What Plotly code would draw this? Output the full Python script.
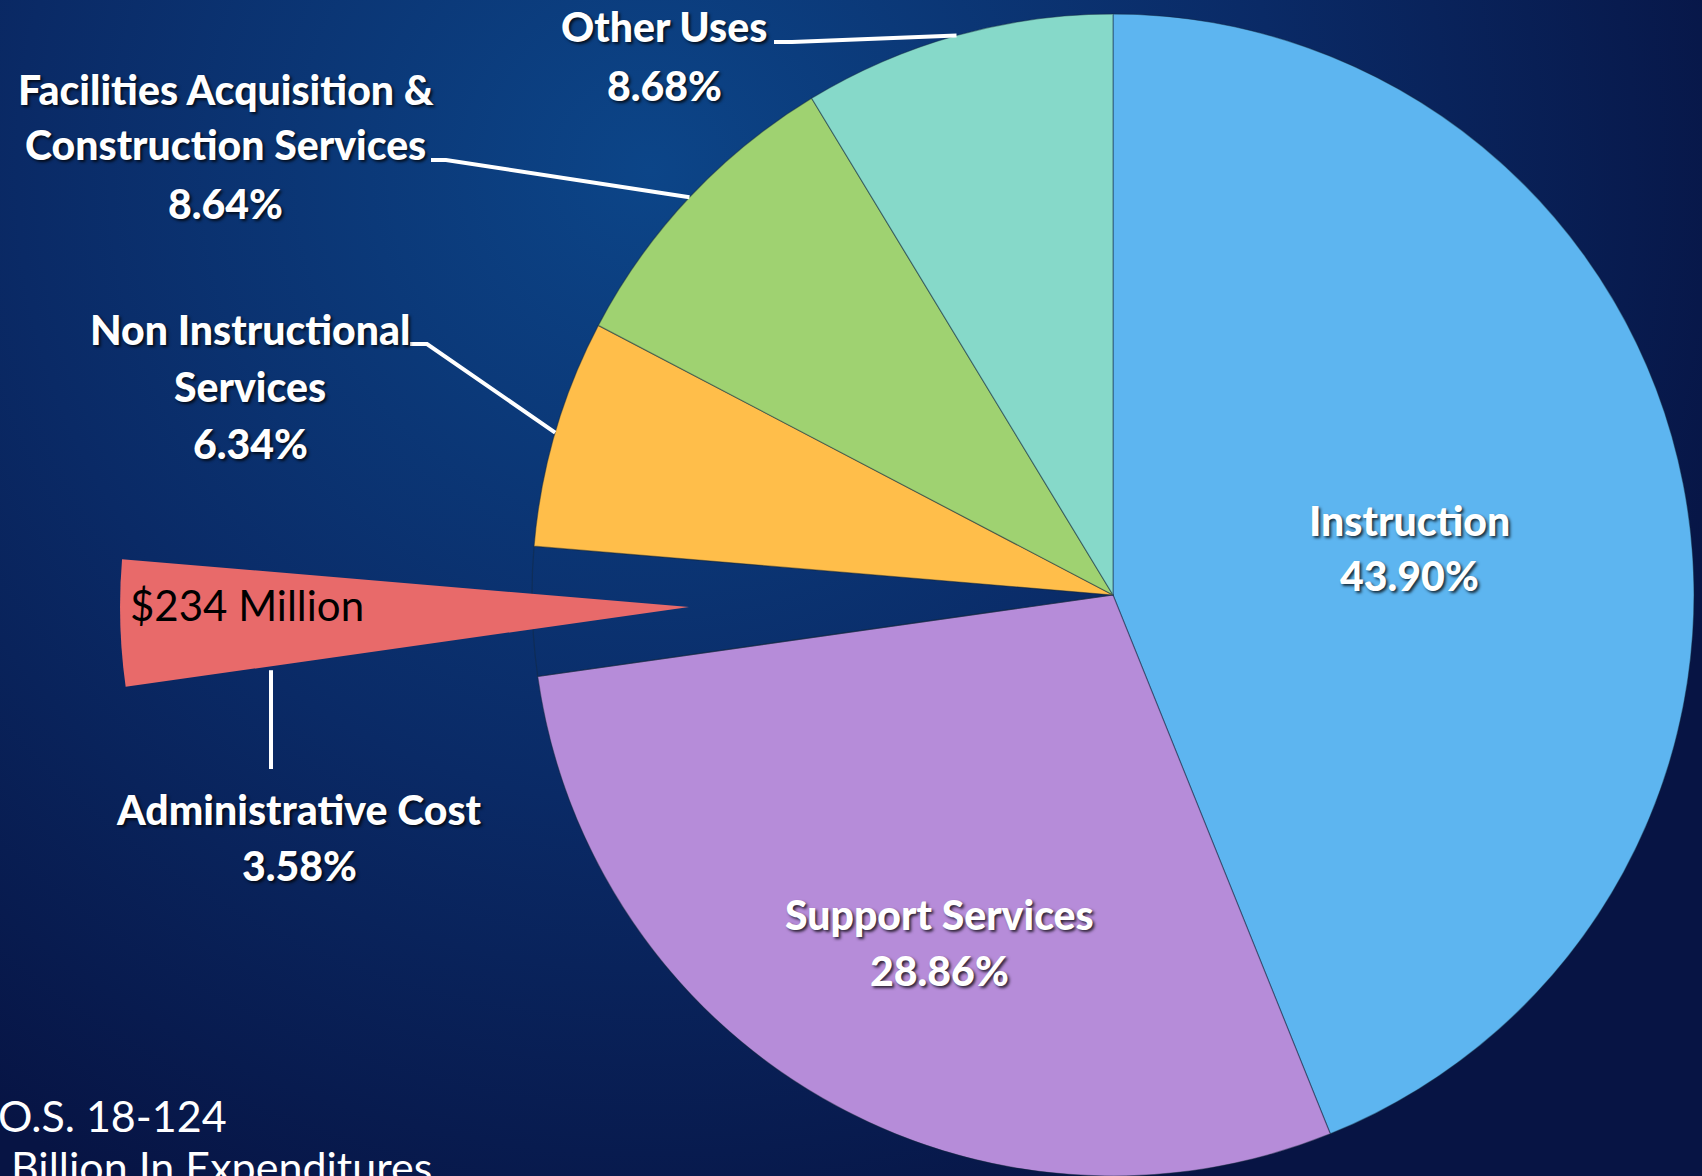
import math
import plotly.graph_objects as go

# data
labels = ["Instruction", "Support Services", "Administrative Cost",
          "Non Instructional Services", "Facilities Acquisition & Construction Services",
          "Other Uses"]
shares = [43.90, 28.86, 3.58, 6.34, 8.64, 8.68]
admin_amount = "$234 Million"
footnote_lines = ["70 O.S. 18-124", "$6.5 Billion In Expenditures"]

# how long names are wrapped on the slide
wrapped = {
    "Non Instructional Services": ["Non Instructional", "Services"],
    "Facilities Acquisition & Construction Services": ["Facilities Acquisition &", "Construction Services"],
}

W, H = 1702, 1176
colors = ["#5db5f0", "#b68cd9", "#e86a6a", "#ffbe4a", "#9fd271", "#86d9c9"]

# pie geometry in pixels
cx, cy, R = 1113, 595, 581
admin_idx = labels.index("Administrative Cost")
admin_pull = 0.73

total = sum(shares)
cum = [sum(shares[:i]) for i in range(len(shares) + 1)]


def ang(frac):
    # clockwise from 12 o'clock, radians
    return 2 * math.pi * frac / total


def on_circle(a, r, x0, y0):
    return x0 + r * math.sin(a), y0 - r * math.cos(a)


def px(x):
    return x / W


def py(y):
    return 1 - y / H


# admin slice pulled out: its own pie whose centre is shifted along the mid angle
mid_admin = ang((cum[admin_idx] + cum[admin_idx + 1]) / 2)
vx, vy = on_circle(mid_admin, admin_pull * R, cx, cy)
Ra = min(vy, H - vy, R)

fig = go.Figure()

# background glow
gx, gy, gr = 650, 170, 1150
fig.add_trace(go.Scatter(
    x=[gx - gr, gx + gr, gx + gr, gx - gr, gx - gr],
    y=[gy - gr, gy - gr, gy + gr, gy + gr, gy - gr],
    mode="lines", line=dict(width=0), fill="toself",
    fillgradient=dict(type="radial",
                      colorscale=[[0, "#0c4588"], [0.55, "#0a2a66"], [1, "#071444"]]),
    hoverinfo="skip", showlegend=False,
))

main_colors = [c if i != admin_idx else "rgba(0,0,0,0)" for i, c in enumerate(colors)]
fig.add_trace(go.Pie(
    labels=labels, values=shares, sort=False, direction="clockwise", rotation=0,
    marker=dict(colors=main_colors, line=dict(color="rgba(20,40,60,0.45)", width=1.2)),
    textinfo="none", hoverinfo="skip", showlegend=False,
    domain=dict(x=[px(cx - R), px(cx + R)], y=[py(cy + R), py(cy - R)]),
))

admin_colors = [c if i == admin_idx else "rgba(0,0,0,0)" for i, c in enumerate(colors)]
fig.add_trace(go.Pie(
    labels=labels, values=shares, sort=False, direction="clockwise", rotation=0,
    marker=dict(colors=admin_colors, line=dict(width=0)),
    textinfo="none", hoverinfo="skip", showlegend=False,
    domain=dict(x=[px(vx - Ra), px(vx + Ra)], y=[py(vy + Ra), py(vy - Ra)]),
))

# label placement (pixels): centre x and y of each line
label_pos = {
    "Instruction": (1409, [520, 575]),
    "Support Services": (939, [915, 970]),
    "Administrative Cost": (299, [809, 865]),
    "Non Instructional Services": (250, [330, 386, 444]),
    "Facilities Acquisition & Construction Services": (226, [89, 145, 203]),
    "Other Uses": (664, [27, 85]),
}

label_font = dict(family="Lato, 'Noto Sans', sans-serif", size=41, color="white",
                  weight=900, shadow="2px 2px 3px rgba(0,0,0,0.75)")
annotations = []
for name, val in zip(labels, shares):
    lines = wrapped.get(name, [name]) + [f"{val:.2f}%"]
    x, ys = label_pos[name]
    for line, y in zip(lines, ys):
        annotations.append(dict(x=px(x), y=py(y), xref="paper", yref="paper",
                                text=line, showarrow=False, xanchor="center",
                                yanchor="middle", font=label_font))

annotations.append(dict(x=px(128), y=py(605), xref="paper", yref="paper",
                        text=admin_amount, showarrow=False, xanchor="left", yanchor="middle",
                        font=dict(family="Lato, sans-serif", size=42, color="black")))

# footnote runs off the left edge of the slide, as in the original
foot_font = dict(family="Lato, sans-serif", size=43, color="white")
for line, (xr, y) in zip(footnote_lines, [(229, 1115), (434, 1166)]):
    annotations.append(dict(x=px(xr), y=py(y), xref="paper", yref="paper",
                            text=line, showarrow=False, xanchor="right", yanchor="middle",
                            font=foot_font))

# leader lines: from a stub next to the label to the slice's outer edge
leaders = {
    "Other Uses": [(774, 42), (792, 42)],
    "Facilities Acquisition & Construction Services": [(431, 160), (446, 160)],
    "Non Instructional Services": [(410, 344), (427, 344)],
}
shapes = []
for name, pts in leaders.items():
    i = labels.index(name)
    ex, ey = on_circle(ang((cum[i] + cum[i + 1]) / 2), R, cx, cy)
    path = f"M {px(pts[0][0])} {py(pts[0][1])} L {px(pts[1][0])} {py(pts[1][1])} L {px(ex)} {py(ey)}"
    shapes.append(dict(type="path", path=path, xref="paper", yref="paper",
                       line=dict(color="white", width=4)))

# admin leader: straight up to the lower edge of the pulled slice
lx, ly = 271, 769
a_edge = ang(cum[admin_idx])
d = (lx - vx) / math.sin(a_edge)
top_y = vy - d * math.cos(a_edge)
shapes.append(dict(type="line", xref="paper", yref="paper",
                   x0=px(lx), y0=py(ly), x1=px(lx), y1=py(top_y + 4),
                   line=dict(color="white", width=4)))

fig.update_layout(
    width=W, height=H,
    margin=dict(l=0, r=0, t=0, b=0),
    paper_bgcolor="#0a2258", plot_bgcolor="rgba(0,0,0,0)",
    xaxis=dict(range=[0, W], visible=False, fixedrange=True),
    yaxis=dict(range=[H, 0], visible=False, fixedrange=True),
    annotations=annotations, shapes=shapes,
    showlegend=False,
)

fig.write_html("out.html", config={"displayModeBar": False},
               post_script="document.body.style.margin='0px';")
